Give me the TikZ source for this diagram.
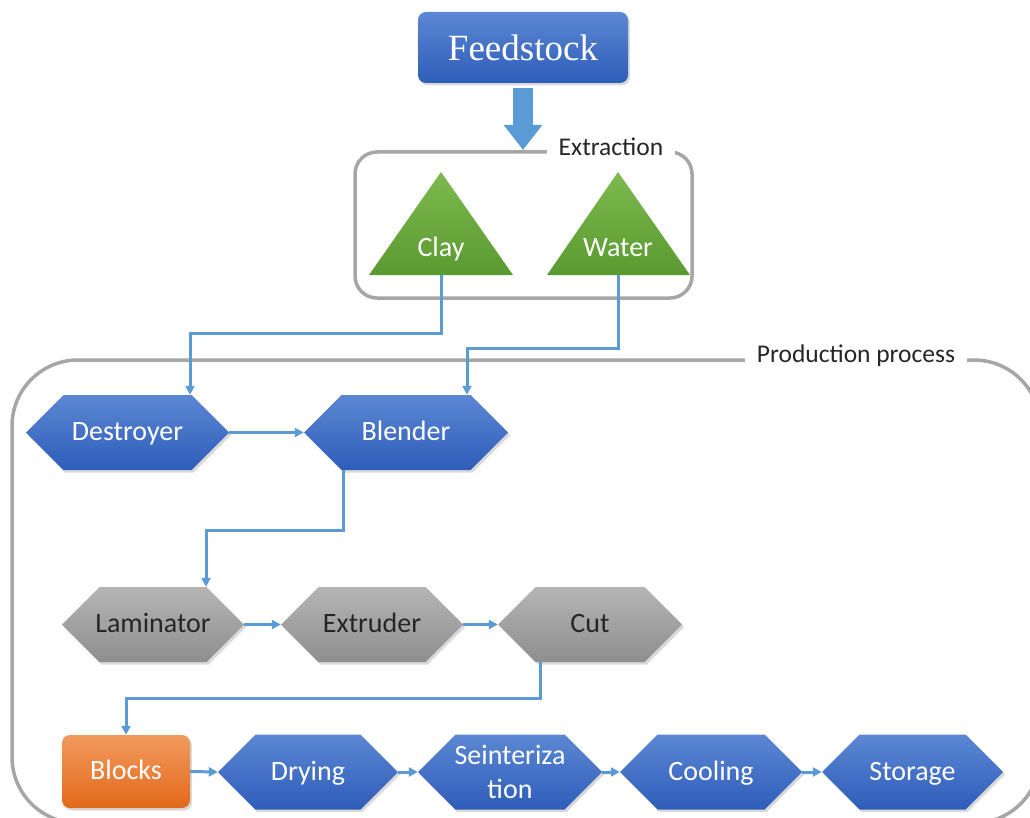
\documentclass[tikz,border=0pt]{standalone}
\usepackage{fontspec}
\setmainfont{Carlito}
\newfontfamily\feedfont{Liberation Serif}
\usetikzlibrary{arrows.meta,shadows}
\definecolor{conncol}{HTML}{5B9BD5}
\definecolor{boxgray}{HTML}{A6A6A6}
\definecolor{bluetop}{HTML}{5C87D4}
\definecolor{bluebot}{HTML}{2E5DB9}
\definecolor{graytop}{HTML}{B5B5B5}
\definecolor{graybot}{HTML}{8E8E8E}
\definecolor{greentop}{HTML}{7DB94F}
\definecolor{greenbot}{HTML}{5A9A30}
\definecolor{orangetop}{HTML}{F29A5E}
\definecolor{orangebot}{HTML}{E2691A}
\tikzset{
  conn/.style={draw=conncol, line width=3pt, -{Triangle[length=9pt,width=9pt]}},
  frame/.style={draw=boxgray, line width=3.5pt, rounded corners=#1},
  framelabel/.style={fill=white, inner xsep=12pt, inner ysep=2pt, text=black!85, font=\fontsize{25.5}{28}\selectfont},
  shad/.style={drop shadow={shadow xshift=2pt, shadow yshift=-2.5pt, opacity=0.3}},
  bluefill/.style={top color=bluetop, bottom color=bluebot, shad},
  grayfill/.style={top color=graytop, bottom color=graybot, shad},
  greenfill/.style={top color=greentop, bottom color=greenbot},
  whitetxt/.style={text=white, font=\fontsize{28}{34}\selectfont, align=center, inner sep=0pt, text height=20pt, text depth=4pt},
  twoline/.style={text=white, font=\fontsize{28}{34}\selectfont, align=center, inner sep=0pt},
  darktxt/.style={text=black!85, font=\fontsize{28}{34}\selectfont, align=center, inner sep=0pt, text height=20pt, text depth=4pt},
}
% name, cx, cy, halfwidth, fill style, text style, text
\newcommand\hexbox[7]{%
  \path[#5] ({#2-#4},#3) -- ({#2-#4+37.5},{#3-37.5}) -- ({#2+#4-37.5},{#3-37.5})
     -- ({#2+#4},#3) -- ({#2+#4-37.5},{#3+37.5}) -- ({#2-#4+37.5},{#3+37.5}) -- cycle;
  \node[#6, minimum width={2*#4}, minimum height=75] (#1) at (#2,#3) {#7};
}
\begin{document}
\begin{tikzpicture}[x=1pt,y=-1pt]
\useasboundingbox (0,0) rectangle (1030,818);
% frames
\draw[frame=22] (355,152) rectangle (692,298);
\node[framelabel] (extlabel) at (611,147) {Extraction};
\draw[frame=66] (12,360) rectangle (1040,823);
\node[framelabel] (prodlabel) at (856,356) {Production process};
% feedstock
\node[rounded corners=8pt, top color=bluetop, bottom color=bluebot, shad,
      minimum width=210, minimum height=71, text=white,
      font=\feedfont\fontsize{37}{40}\selectfont] (feed) at (523,47.5) {Feedstock};
\coordinate (feedtip) at (523,150);
\draw[draw=conncol, line width=20pt, -{Triangle[length=25pt,width=37pt]}]
  ([yshift=-5pt]feed.south) -- (feedtip);
% triangles
\path[greenfill] (441,172) -- (513,275) -- (369,275) -- cycle;
\path[greenfill] (618,172) -- (690,275) -- (547,275) -- cycle;
\node[whitetxt] (clay) at (441,249) {Clay};
\node[whitetxt] (water) at (618,249) {Water};
\coordinate (claybase) at (441,275);
\coordinate (waterbase) at (618,275);
% row 1
\hexbox{destroyer}{127.5}{432.5}{101.5}{bluefill}{whitetxt}{Destroyer}
\hexbox{blender}{406}{432.5}{102}{bluefill}{whitetxt}{Blender}
% row 2
\hexbox{laminator}{153}{624.5}{91}{grayfill}{darktxt}{Laminator}
\hexbox{extruder}{372}{624.5}{91}{grayfill}{darktxt}{Extruder}
\hexbox{cut}{590}{624.5}{92}{grayfill}{darktxt}{Cut}
% row 3
\node[rounded corners=8pt, top color=orangetop, bottom color=orangebot, shad,
      minimum width=128, minimum height=73, whitetxt] (blocks) at (126,771.5) {Blocks};
\hexbox{drying}{308}{772}{90}{bluefill}{whitetxt}{Drying}
\hexbox{sinter}{510}{772}{92}{bluefill}{twoline}{Seinteriza\\tion}
\hexbox{cooling}{711}{772}{91}{bluefill}{whitetxt}{Cooling}
\hexbox{storage}{912.5}{772}{90.5}{bluefill}{whitetxt}{Storage}
% connectors
\draw[conn] (claybase) -- ++(0,58) -| ([xshift=62.5pt]destroyer.north);
\draw[conn] (waterbase) -- ++(0,73) -| ([xshift=61pt]blender.north);
\draw[conn] (destroyer.east) -- (blender.west);
\draw[conn] ([xshift=-63pt]blender.south) -- ++(0,60) -| ([xshift=53pt]laminator.north);
\draw[conn] (laminator.east) -- (extruder.west);
\draw[conn] (extruder.east) -- (cut.west);
\draw[conn] ([xshift=-50pt]cut.south) -- ++(0,36) -| (blocks.north);
\draw[conn] (blocks.east) -- (drying.west);
\draw[conn] (drying.east) -- (sinter.west);
\draw[conn] (sinter.east) -- (cooling.west);
\draw[conn] (cooling.east) -- (storage.west);
\end{tikzpicture}
\end{document}
